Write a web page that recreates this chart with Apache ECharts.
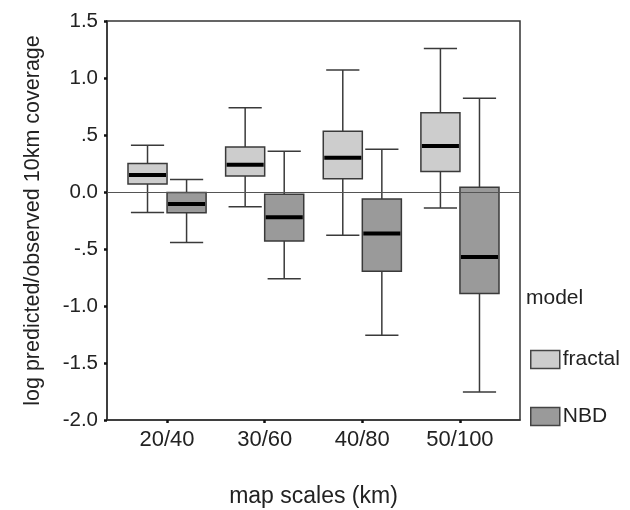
<!DOCTYPE html>
<html>
<head>
<meta charset="utf-8">
<script src="https://cdn.jsdelivr.net/npm/echarts@6/dist/echarts.min.js"></script>
<style>
html,body{margin:0;padding:0;background:#fff;}
#chart{width:630px;height:510px;}
</style>
</head>
<body>
<div id="chart"></div>
<script>
// ---- data ----
const categories = ['20/40', '30/60', '40/80', '50/100'];
const seriesNames = ['fractal', 'NBD'];
// [min whisker, Q1, median, Q3, max whisker]
const fractalStats = [
  [-0.18, 0.07, 0.15, 0.25, 0.41],
  [-0.13, 0.14, 0.24, 0.395, 0.74],
  [-0.38, 0.117, 0.30, 0.532, 1.07],
  [-0.14, 0.179, 0.404, 0.696, 1.258]
];
const nbdStats = [
  [-0.444, -0.181, -0.105, -0.005, 0.109],
  [-0.76, -0.43, -0.222, -0.02, 0.357],
  [-1.257, -0.696, -0.365, -0.061, 0.375],
  [-1.754, -0.891, -0.57, 0.041, 0.822]
];
const yTicks = [-2.0, -1.5, -1.0, -0.5, 0.0, 0.5, 1.0, 1.5];
const legendTitle = 'model';
const xTitle = 'map scales (km)';
const yTitle = 'log predicted/observed 10km coverage';

// ---- styling ----
const FONT = '"Liberation Sans", Arial, sans-serif';
const fills = ['#cdcdcd', '#9a9a9a'];
const edge = '#3a3a3a';
const offsets = [-0.2, 0.2];
const BOX_W = 0.4;
const CAP_W = 0.34;

function fmtY(v) {
  if (Math.abs(v) < 1e-9) return '0.0';
  let s = v.toFixed(1);
  if (Math.abs(v) < 1) s = s.replace('0.', '.');
  return s;
}

function makeSeries(idx, stats) {
  return {
    name: seriesNames[idx],
    type: 'custom',
    coordinateSystem: 'cartesian2d',
    itemStyle: { color: fills[idx], borderColor: edge, borderWidth: 1.5 },
    data: stats.map((s, i) => [i, s[0], s[1], s[2], s[3], s[4]]),
    encode: { x: 0, y: [1, 2, 3, 4, 5] },
    renderItem: function (params, api) {
      const xc = api.value(0) + offsets[idx];
      const lo = api.value(1), q1 = api.value(2), med = api.value(3), q3 = api.value(4), hi = api.value(5);
      const pL = api.coord([xc - BOX_W / 2, q3]);
      const pR = api.coord([xc + BOX_W / 2, q1]);
      const cL = api.coord([xc - CAP_W / 2, hi]);
      const cR = api.coord([xc + CAP_W / 2, lo]);
      const pc = api.coord([xc, med]);
      const pHi = api.coord([xc, hi]);
      const pLo = api.coord([xc, lo]);
      const lineStyle = { stroke: edge, lineWidth: 1.5 };
      return {
        type: 'group',
        children: [
          { type: 'line', shape: { x1: pHi[0], y1: pHi[1], x2: pHi[0], y2: pL[1] }, style: lineStyle },
          { type: 'line', shape: { x1: pLo[0], y1: pR[1], x2: pLo[0], y2: pLo[1] }, style: lineStyle },
          { type: 'line', shape: { x1: cL[0], y1: pHi[1], x2: cR[0], y2: pHi[1] }, style: lineStyle },
          { type: 'line', shape: { x1: cL[0], y1: pLo[1], x2: cR[0], y2: pLo[1] }, style: lineStyle },
          { type: 'rect', shape: { x: pL[0], y: pL[1], width: pR[0] - pL[0], height: pR[1] - pL[1] },
            style: { fill: fills[idx], stroke: edge, lineWidth: 1.5 } },
          { type: 'line', shape: { x1: pL[0] + 1, y1: pc[1], x2: pR[0] - 1, y2: pc[1] },
            style: { stroke: '#000', lineWidth: 4 } }
        ]
      };
    }
  };
}

const chart = echarts.init(document.getElementById('chart'), null, { renderer: 'canvas' });
const series = [makeSeries(0, fractalStats), makeSeries(1, nbdStats)];
series[0].markLine = {
  silent: true,
  symbol: 'none',
  label: { show: false },
  lineStyle: { color: '#555', width: 1, type: 'solid' },
  data: [{ yAxis: 0 }],
  animation: false
};

chart.setOption({
  animation: false,
  backgroundColor: '#ffffff',
  textStyle: { fontFamily: FONT },
  title: {
    text: legendTitle,
    left: 526,
    top: 288,
    textStyle: { fontFamily: FONT, fontSize: 21, fontWeight: 'normal', color: '#222' },
    padding: 0
  },
  legend: {
    orient: 'vertical',
    left: 530,
    top: 349,
    itemWidth: 29,
    itemHeight: 18,
    itemGap: 36,
    icon: 'rect',
    padding: 0,
    itemStyle: { borderColor: '#444', borderWidth: 1.5 },
    textStyle: { fontFamily: FONT, fontSize: 21, color: '#222', padding: [0, 0, 0, -2] },
    data: seriesNames
  },
  grid: {
    left: 107, right: 110, top: 21, bottom: 90,
    outerBoundsMode: 'none',
    containLabel: false,
    show: true, borderColor: '#333', borderWidth: 1.5, backgroundColor: 'transparent'
  },
  xAxis: {
    type: 'value',
    min: -0.615,
    max: 3.615,
    name: xTitle,
    nameLocation: 'middle',
    nameGap: 65,
    nameTextStyle: { fontFamily: FONT, fontSize: 23, color: '#222' },
    axisLine: { show: true, onZero: false, lineStyle: { color: '#333', width: 1.5 } },
    axisTick: { show: true, length: 3, customValues: [0, 1, 2, 3], lineStyle: { color: '#111', width: 2.5 } },
    axisLabel: {
      customValues: [0, 1, 2, 3],
      margin: 9,
      fontFamily: FONT, fontSize: 22, color: '#222',
      formatter: v => categories[Math.round(v)] ?? ''
    },
    splitLine: { show: false }
  },
  yAxis: {
    type: 'value',
    min: yTicks[0],
    max: yTicks[yTicks.length - 1],
    interval: 0.5,
    name: yTitle,
    nameLocation: 'middle',
    nameRotate: 90,
    nameGap: 63,
    nameTextStyle: { fontFamily: FONT, fontSize: 21.5, color: '#222' },
    axisLine: { show: true, onZero: false, lineStyle: { color: '#333', width: 1.5 } },
    axisTick: { show: true, length: 3, lineStyle: { color: '#111', width: 2.5 } },
    axisLabel: { margin: 9, fontFamily: FONT, fontSize: 20.5, color: '#222', formatter: fmtY },
    splitLine: { show: false }
  },
  series: series
});
</script>
</body>
</html>
